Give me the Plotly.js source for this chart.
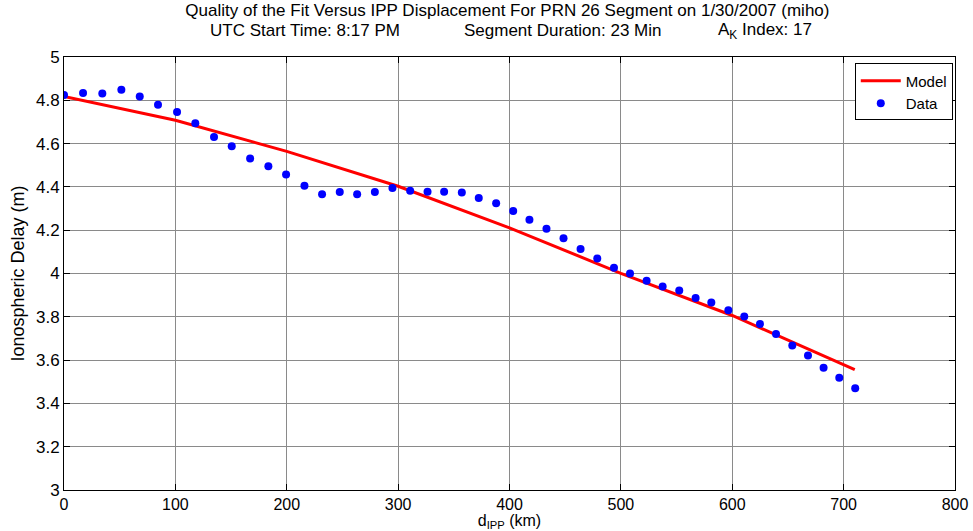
<!DOCTYPE html>
<html>
<head>
<meta charset="utf-8">
<script src="https://cdn.plot.ly/plotly-3.0.1.min.js"></script>
<style>html,body{margin:0;padding:0;background:#fff;}#chart{width:973px;height:531px;}</style>
</head>
<body>
<div id="chart"></div>
<script>
// Data
var dataX = [0, 17.1, 34.4, 51.5, 68.0, 84.4, 101.5, 117.9, 134.7, 150.6, 167.1, 183.5, 199.4, 215.9, 231.7, 247.6, 263.2, 279.1, 294.9, 310.8, 326.4, 341.3, 357.2, 372.4, 388.0, 403.3, 417.9, 433.2, 448.5, 463.8, 478.8, 493.8, 508.2, 523.1, 537.5, 552.4, 567.1, 581.2, 596.5, 610.8, 624.9, 639.3, 653.9, 668.0, 682.0, 696.1, 710.4];
var dataY = [4.825, 4.834, 4.831, 4.849, 4.818, 4.779, 4.746, 4.694, 4.631, 4.588, 4.531, 4.495, 4.457, 4.405, 4.366, 4.376, 4.366, 4.377, 4.395, 4.382, 4.378, 4.378, 4.374, 4.349, 4.324, 4.289, 4.248, 4.207, 4.163, 4.113, 4.069, 4.027, 4.000, 3.966, 3.940, 3.921, 3.887, 3.866, 3.830, 3.801, 3.767, 3.721, 3.668, 3.621, 3.565, 3.518, 3.470];
var modelX = [0, 100, 200, 250, 300, 400, 500, 600, 700, 710];
var modelY = [4.818, 4.708, 4.564, 4.483, 4.403, 4.211, 4.001, 3.806, 3.579, 3.556];
var xTicks = [0, 100, 200, 300, 400, 500, 600, 700, 800];
var yTicks = [3, 3.2, 3.4, 3.6, 3.8, 4, 4.2, 4.4, 4.6, 4.8, 5];
var titleText = 'Quality of the Fit Versus IPP Displacement For PRN 26 Segment on 1/30/2007 (miho)';
var subtitleParts = ['UTC Start Time: 8:17 PM', 'Segment Duration: 23 Min', 'A<sub>K</sub> Index: 17'];
var subtitlePos = [0.2705, 0.5595, 0.7873];

var FONT = 'Liberation Sans, Arial, Helvetica, sans-serif';

var traces = [
  {x: modelX, y: modelY, mode: 'lines', name: 'Model', line: {color: '#ff0000', width: 3}},
  {x: dataX, y: dataY, mode: 'markers', name: 'Data', marker: {color: '#0000ff', size: 8}}
];

var axisCommon = {
  showline: true, linecolor: '#000', linewidth: 1, mirror: 'ticks',
  ticks: 'inside', ticklen: 6, tickcolor: '#000',
  showgrid: true, gridcolor: '#8a8a8a', gridwidth: 1,
  zeroline: false
};

var annotations = subtitleParts.map(function (t, i) {
  return {text: t, xref: 'paper', yref: 'paper', x: subtitlePos[i], xanchor: 'center',
          y: 1 + (57 - 30.5) / 433, yanchor: 'middle', showarrow: false,
          font: {family: FONT, size: 17, color: '#000'}};
});

var layout = {
  width: 973, height: 531,
  margin: {l: 64, r: 18, t: 57, b: 41},
  paper_bgcolor: '#fff', plot_bgcolor: '#fff',
  showlegend: true,
  title: {text: titleText, font: {family: FONT, size: 17, color: '#000'},
          x: 0.5215, xanchor: 'center', y: 1 - 10.5 / 531, yanchor: 'middle'},
  annotations: annotations,
  xaxis: Object.assign({}, axisCommon, {range: [0, 800], tickvals: xTicks, ticktext: xTicks.map(String),
          tickfont: {family: FONT, size: 16, color: '#000'},
          title: {text: 'd<sub>IPP</sub> (km)', font: {family: FONT, size: 16, color: '#000'}, standoff: 1}}),
  yaxis: Object.assign({}, axisCommon, {range: [3, 5], tickvals: yTicks, ticktext: yTicks.map(String),
          tickfont: {family: FONT, size: 17, color: '#000'},
          title: {text: 'Ionospheric Delay (m)', font: {family: FONT, size: 18, color: '#000'}, standoff: 6}}),
  legend: {x: 0.9975, xanchor: 'right', y: 0.985, yanchor: 'top', bgcolor: '#fff', bordercolor: '#000', borderwidth: 1,
           font: {family: FONT, size: 15, color: '#000'}, tracegroupgap: 0, itemwidth: 40}
};

Plotly.newPlot('chart', traces, layout, {displayModeBar: false, staticPlot: true});
</script>
</body>
</html>
